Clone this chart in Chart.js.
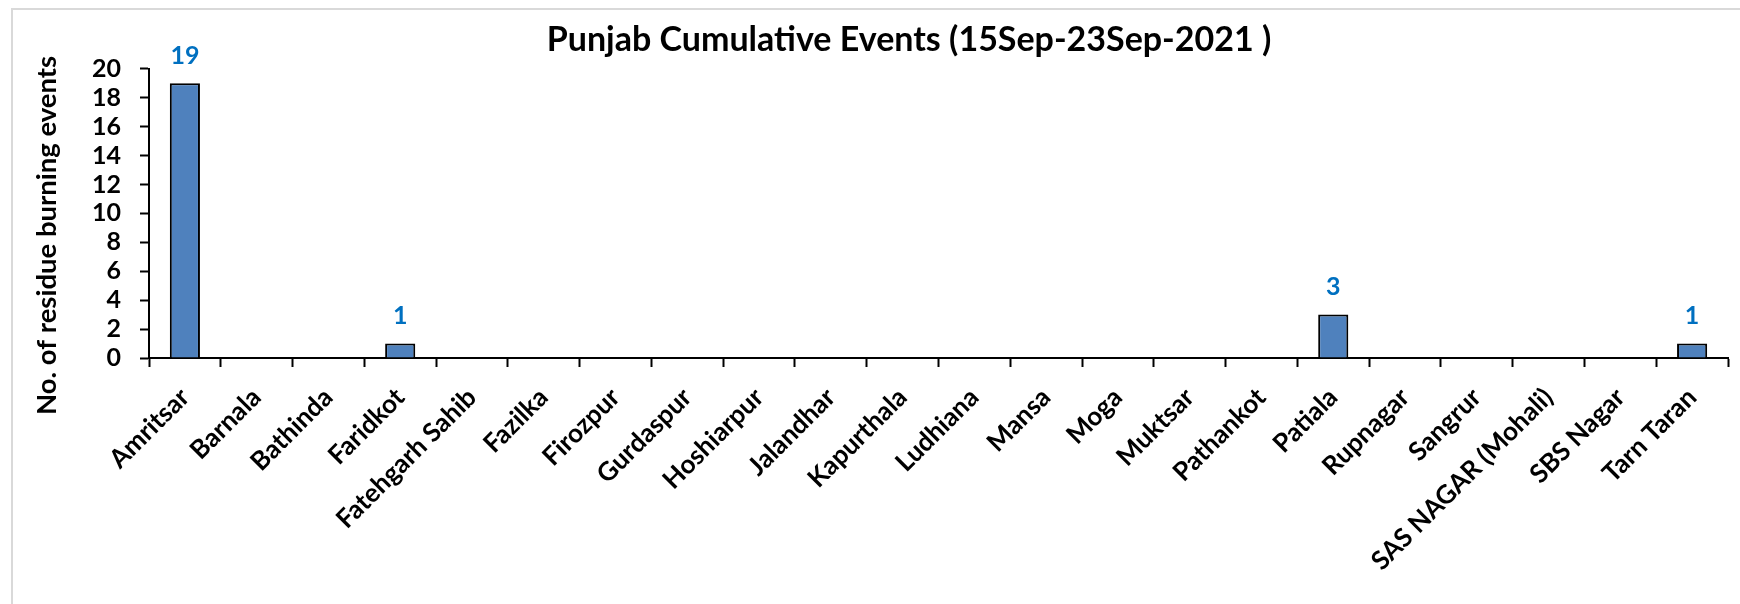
<!DOCTYPE html>
<html><head><meta charset="utf-8">
<script src="https://cdn.jsdelivr.net/npm/chart.js@4.4.0/dist/chart.umd.min.js"></script>
<style>
html,body{margin:0;padding:0;background:#fff;}
#wrap{position:relative;width:1740px;height:604px;overflow:hidden;}
#frame{position:absolute;left:11px;top:8px;width:2000px;height:1000px;border-top:2px solid #d9d9d9;border-left:2px solid #d9d9d9;pointer-events:none;}
canvas{position:absolute;left:0;top:0;}
</style></head><body>
<div id="wrap"><canvas id="c" width="1740" height="604"></canvas><div id="frame"></div></div>
<script>
const categories = ['Amritsar','Barnala','Bathinda','Faridkot','Fatehgarh Sahib','Fazilka','Firozpur','Gurdaspur','Hoshiarpur','Jalandhar','Kapurthala','Ludhiana','Mansa','Moga','Muktsar','Pathankot','Patiala','Rupnagar','Sangrur','SAS NAGAR (Mohali)','SBS Nagar','Tarn Taran'];
const events = [19,0,0,1,0,0,0,0,0,0,0,0,0,0,0,0,3,0,0,0,0,1];
const yTicks = [0,2,4,6,8,10,12,14,16,18,20];
const chartTitle = 'Punjab Cumulative Events (15Sep-23Sep-2021 )';
const yAxisTitle = 'No. of residue burning events';

const FONT = 'Lato';

const valueLabels = {
  id: 'valueLabels',
  afterDatasetsDraw(chart) {
    const ctx = chart.ctx;
    const meta = chart.getDatasetMeta(0);
    ctx.save();
    ctx.font = 'bold 25px ' + FONT;
    ctx.fillStyle = '#0070C0';
    ctx.textAlign = 'center';
    ctx.textBaseline = 'alphabetic';
    meta.data.forEach((bar, i) => {
      const v = events[i];
      if (v > 0) ctx.fillText(String(v), bar.x, bar.y - 19.5);
    });
    ctx.restore();
  }
};

const shiftTitles = {
  id: 'shiftTitles',
  afterLayout(chart) {
    if (chart.titleBlock) chart.titleBlock.left = 90;
    const s = chart.scales.y;
    if (s && !s._patched) {
      const orig = s.drawTitle;
      s.drawTitle = function () {
        const t = this.top, b = this.bottom;
        this.top += 44;
        orig.call(this);
        this.top = t; this.bottom = b;
      };
      s._patched = true;
    }
  }
};

function build() {
  new Chart(document.getElementById('c'), {
    type: 'bar',
    data: {
      labels: categories,
      datasets: [{
        data: events,
        backgroundColor: '#4F81BD',
        borderColor: '#000000',
        borderWidth: 2,
        categoryPercentage: 1,
        barPercentage: 0.42
      }]
    },
    plugins: [valueLabels, shiftTitles],
    options: {
      responsive: false,
      animation: false,
      devicePixelRatio: 1,
      layout: { padding: { left: 0, right: 12, top: 0, bottom: 0 } },
      plugins: {
        legend: { display: false },
        tooltip: { enabled: false },
        title: {
          display: true,
          text: chartTitle,
          color: '#000',
          font: { family: FONT, size: 34, weight: 'bold', lineHeight: 1.2 },
          padding: { top: 20, bottom: 8 }
        }
      },
      scales: {
        x: {
          offset: true,
          grid: { display: true, drawOnChartArea: false, drawTicks: true, tickLength: 9, tickWidth: 2, tickColor: '#000', offset: true },
          border: { display: true, color: '#000', width: 2 },
          ticks: {
            color: '#000',
            autoSkip: false,
            maxRotation: 45,
            minRotation: 45,
            padding: 15,
            font: { family: FONT, size: 26, weight: 'bold' }
          },
          afterFit(scale) { scale.height = 246; }
        },
        y: {
          min: 0,
          max: 20,
          afterBuildTicks(scale) { scale.ticks = yTicks.map(v => ({ value: v })); },
          grid: { display: true, drawOnChartArea: false, drawTicks: true, tickLength: 9, tickWidth: 2, tickColor: '#000' },
          border: { display: true, color: '#000', width: 2 },
          ticks: {
            color: '#000',
            autoSkip: false,
            padding: 19,
            font: { family: FONT, size: 25, weight: 'bold' }
          },
          title: {
            display: true,
            text: yAxisTitle,
            color: '#000',
            font: { family: FONT, size: 27.5, weight: 'bold', lineHeight: 1.2 },
            padding: { top: 31, bottom: 0 }
          },
          afterFit(scale) { scale.width = 149; }
        }
      }
    }
  });
}
if (document.fonts && document.fonts.load) {
  Promise.all([document.fonts.load('bold 25px ' + FONT)]).then(build, build);
} else { build(); }
</script>
</body></html>
